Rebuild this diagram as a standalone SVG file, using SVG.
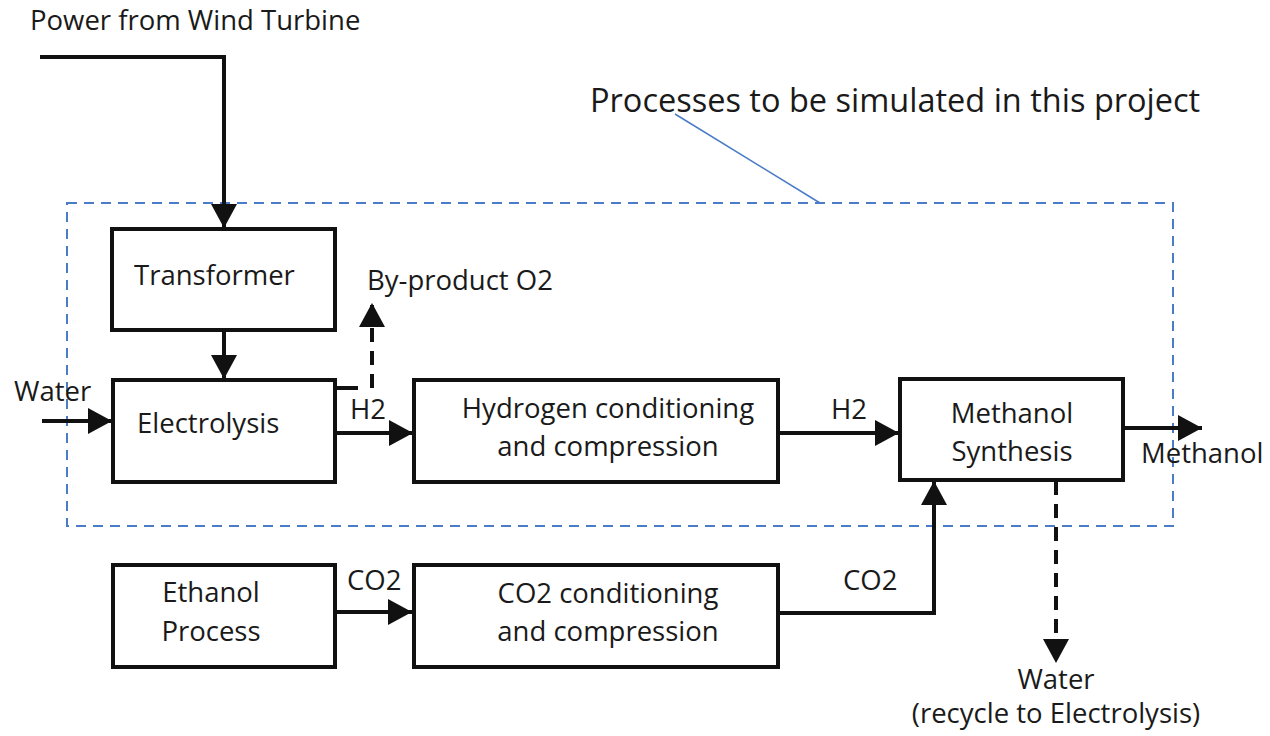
<svg xmlns="http://www.w3.org/2000/svg" width="1270" height="736" viewBox="0 0 1270 736">
<style>
text{font-family:"Open Sans","DejaVu Sans",sans-serif;font-size:27.5px;fill:#1a1a1a}
.big{font-size:32.5px}
.box{fill:#fff;stroke:#111;stroke-width:4}
.ln{fill:none;stroke:#111;stroke-width:4}
.dl{fill:none;stroke:#111;stroke-width:4;stroke-dasharray:14 9}
.c{text-anchor:middle}
</style>
<defs>
<marker id="ah" markerUnits="userSpaceOnUse" markerWidth="26" markerHeight="26" viewBox="0 0 24 26" refX="24" refY="13" orient="auto">
<path d="M0,0 L24,13 L0,26 Z" fill="#111"/>
</marker>
</defs>
<g id="boundary">
<rect x="67" y="203" width="1106" height="323" fill="none" stroke="#4a7cc7" stroke-width="2" stroke-dasharray="10 7"/>
<line x1="675" y1="114" x2="820" y2="203" stroke="#4a7cc7" stroke-width="1.5"/>
<text class="big" x="590" y="112">Processes to be simulated in this project</text>
</g>
<g id="connectors">
<polyline class="ln" points="40,57 224,57 224,228" marker-end="url(#ah)"/>
<line class="ln" x1="224" y1="330" x2="224" y2="379" marker-end="url(#ah)"/>
<line class="ln" x1="42" y1="421" x2="112" y2="421" marker-end="url(#ah)"/>
<line class="ln" x1="335" y1="433" x2="413" y2="433" marker-end="url(#ah)"/>
<line class="ln" x1="335" y1="388" x2="358" y2="388"/>
<line class="dl" x1="372" y1="388" x2="372" y2="303" marker-end="url(#ah)"/>
<line class="ln" x1="778" y1="433" x2="899" y2="433" marker-end="url(#ah)"/>
<line class="ln" x1="1123" y1="428" x2="1202" y2="428" marker-end="url(#ah)"/>
<line class="ln" x1="335" y1="612" x2="412" y2="612" marker-end="url(#ah)"/>
<polyline class="ln" points="778,613 934,613 934,481" marker-end="url(#ah)"/>
<line class="dl" x1="1056" y1="481" x2="1056" y2="663" marker-end="url(#ah)"/>
</g>
<g id="power"><text x="30" y="30">Power from Wind Turbine</text></g>
<g id="transformer"><rect class="box" x="112" y="229" width="223" height="101"/><text x="134" y="285">Transformer</text></g>
<g id="electrolysis"><rect class="box" x="113" y="380" width="222" height="102"/><text x="137" y="433">Electrolysis</text></g>
<g id="hydrogen"><rect class="box" x="414" y="380" width="364" height="102"/><text class="c" x="608" y="418">Hydrogen conditioning</text><text class="c" x="608" y="456">and compression</text></g>
<g id="methanol"><rect class="box" x="900" y="379" width="223" height="101"/><text class="c" x="1012" y="423">Methanol</text><text class="c" x="1012" y="461">Synthesis</text></g>
<g id="ethanol"><rect class="box" x="113" y="565" width="222" height="102"/><text class="c" x="211" y="602">Ethanol</text><text class="c" x="211" y="641">Process</text></g>
<g id="co2cond"><rect class="box" x="414" y="565" width="364" height="102"/><text class="c" x="608" y="603">CO2 conditioning</text><text class="c" x="608" y="641">and compression</text></g>
<g id="labels">
<text x="14" y="401">Water</text>
<text x="350" y="419">H2</text>
<text x="367" y="290">By-product O2</text>
<text x="831" y="419">H2</text>
<text x="1141" y="463">Methanol</text>
<text x="347" y="590">CO2</text>
<text x="843" y="590">CO2</text>
<text class="c" x="1056" y="689">Water</text>
<text class="c" x="1056" y="723">(recycle to Electrolysis)</text>
</g>
</svg>
